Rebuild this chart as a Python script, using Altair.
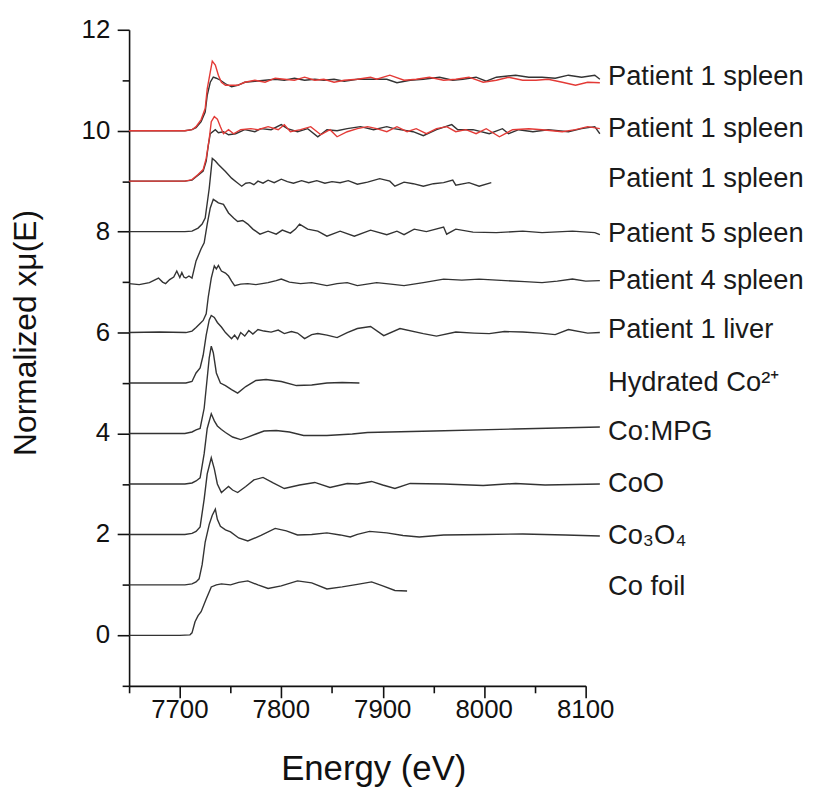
import altair as alt
import pandas as pd

# ---------------- data ----------------
foil_E = [7650, 7700, 7710, 7712, 7715, 7718, 7721, 7726, 7731, 7736, 7741, 7750, 7758, 7767, 7777, 7787, 7800, 7816, 7830, 7845, 7860, 7875, 7889, 7900, 7912, 7924]
foil_mu = [0.0, 0.0, 0.01, 0.05, 0.27, 0.39, 0.47, 0.72, 0.96, 1.0, 1.02, 1.0, 1.05, 1.08, 1.0, 0.93, 0.98, 1.08, 1.04, 0.92, 0.96, 1.01, 1.06, 0.98, 0.89, 0.88]

co3o4_E = [7650, 7705, 7712, 7716, 7719, 7722, 7725, 7729, 7732, 7735, 7737, 7740, 7745, 7750, 7758, 7767, 7780, 7794, 7805, 7816, 7830, 7845, 7858, 7868, 7875, 7887, 7904, 7920, 7936, 7960, 8000, 8038, 8080, 8114]
co3o4_mu = [1.0, 1.0, 1.02, 1.06, 1.12, 1.4, 1.85, 2.2, 2.38, 2.5, 2.3, 2.16, 2.09, 2.05, 1.93, 1.87, 1.98, 2.12, 2.07, 1.99, 2.0, 2.03, 1.99, 1.95, 2.0, 2.06, 2.03, 1.98, 1.95, 1.99, 2.0, 2.01, 1.99, 1.97]

coo_E = [7650, 7705, 7712, 7716, 7720, 7724, 7727, 7731, 7734, 7737, 7741, 7745, 7748, 7752, 7757, 7765, 7773, 7782, 7792, 7803, 7818, 7833, 7848, 7865, 7875, 7889, 7900, 7912, 7927, 7960, 7999, 8031, 8060, 8114]
coo_mu = [2.0, 2.0, 2.02, 2.06, 2.15, 2.7, 3.2, 3.52, 3.3, 3.0, 2.83, 2.9, 2.95, 2.88, 2.83, 2.95, 3.08, 3.13, 3.02, 2.91, 2.98, 3.03, 2.93, 3.01, 3.0, 3.05, 2.98, 2.91, 3.01, 3.0, 2.97, 3.01, 2.98, 3.0]

mpg_E = [7650, 7705, 7712, 7716, 7720, 7724, 7727, 7731, 7734, 7737, 7741, 7745, 7752, 7760, 7767, 7775, 7783, 7795, 7808, 7822, 7845, 7870, 7885, 7950, 8030, 8114]
mpg_mu = [3.0, 3.0, 3.02, 3.06, 3.12, 3.6, 4.1, 4.39, 4.25, 4.15, 4.08, 4.02, 3.93, 3.88, 3.93, 3.99, 4.05, 4.06, 4.03, 3.96, 3.96, 3.99, 4.02, 4.05, 4.09, 4.13]

hyd_E = [7650, 7705, 7712, 7716, 7720, 7724, 7727, 7729, 7731, 7733, 7736, 7740, 7745, 7751, 7757, 7765, 7775, 7785, 7800, 7815, 7830, 7845, 7860, 7877]
hyd_mu = [4.0, 4.0, 4.03, 4.07, 4.1, 4.5, 5.1, 5.5, 5.73, 5.6, 5.2, 5.0, 4.95, 4.87, 4.8, 4.93, 5.05, 5.07, 5.03, 4.95, 4.96, 5.0, 5.01, 5.0]

liver_E = [7650, 7706, 7712, 7716, 7720, 7723, 7726, 7729, 7731, 7734, 7737, 7741, 7745, 7751, 7754, 7757, 7760, 7764, 7768, 7772, 7777, 7783, 7790, 7797, 7803, 7810, 7816, 7823, 7830, 7836, 7845, 7855, 7865, 7875, 7888, 7901, 7917, 7940, 7953, 7972, 7990, 8005, 8020, 8038, 8055, 8070, 8083, 8102, 8114]
liver_mu = [5.0, 5.0, 5.03, 5.2, 5.3, 5.55, 5.95, 6.25, 6.34, 6.3, 6.2, 6.11, 6.0, 5.88, 5.95, 5.87, 6.0, 5.93, 6.04, 5.97, 6.06, 6.03, 6.01, 6.05, 5.98, 6.02, 5.99, 5.88, 5.96, 5.98, 5.95, 5.9, 6.0, 6.08, 6.12, 5.94, 6.08, 5.98, 5.93, 6.01, 5.99, 5.98, 6.02, 6.01, 5.99, 5.96, 6.06, 5.99, 6.0]

p4_E = [7650, 7680, 7706, 7712, 7716, 7720, 7723, 7726, 7728, 7731, 7734, 7736, 7738, 7741, 7745, 7748, 7751, 7754, 7760, 7767, 7775, 7787, 7795, 7800, 7808, 7819, 7830, 7845, 7855, 7865, 7875, 7894, 7908, 7921, 7940, 7960, 7978, 7995, 8021, 8040, 8057, 8072, 8087, 8100, 8114]
p4_mu = [6.0, 6.01, 6.0, 6.03, 6.1, 6.18, 6.24, 6.37, 6.7, 7.08, 7.32, 7.26, 7.33, 7.22, 7.18, 7.12, 7.02, 6.93, 6.96, 6.97, 6.95, 6.99, 7.03, 7.06, 7.0, 6.97, 6.99, 6.93, 6.97, 6.99, 6.93, 6.99, 6.96, 6.93, 6.99, 7.06, 7.04, 7.06, 7.03, 7.01, 6.99, 7.02, 7.06, 7.02, 7.03]

p5_E = [7650, 7660, 7670, 7679, 7683, 7686, 7690, 7694, 7697, 7700, 7702, 7704, 7706, 7709, 7712, 7716, 7721, 7724, 7727, 7730, 7733, 7736, 7738, 7743, 7748, 7753, 7757, 7762, 7767, 7772, 7779, 7787, 7795, 7801, 7809, 7814, 7818, 7826, 7836, 7845, 7858, 7872, 7888, 7904, 7914, 7921, 7931, 7943, 7960, 7963, 7972, 7989, 8012, 8038, 8057, 8087, 8109, 8114]
p5_mu = [6.97, 6.95, 6.99, 7.08, 7.0, 6.97, 7.05, 7.1, 7.22, 7.09, 7.19, 7.1, 7.08, 7.12, 7.08, 7.42, 7.66, 7.78, 8.15, 8.47, 8.64, 8.6, 8.57, 8.54, 8.37, 8.27, 8.2, 8.22, 8.15, 8.05, 7.95, 8.01, 7.95, 8.03, 7.97, 8.05, 8.15, 8.05, 8.01, 7.91, 8.01, 7.91, 8.03, 7.94, 8.01, 7.94, 8.05, 8.0, 8.09, 7.95, 8.05, 7.99, 7.98, 8.01, 7.98, 8.01, 7.98, 7.94]

s3_E = [7650, 7705, 7712, 7718, 7722, 7725, 7729, 7732, 7735, 7738, 7745, 7751, 7756, 7761, 7765, 7769, 7773, 7777, 7782, 7787, 7793, 7800, 7806, 7812, 7820, 7827, 7835, 7843, 7850, 7858, 7866, 7875, 7885, 7897, 7907, 7912, 7921, 7930, 7940, 7950, 7960, 7969, 7972, 7985, 7995, 8007]
s3_mu = [8.0, 8.0, 8.01, 8.07, 8.15, 8.27, 8.86, 9.45, 9.4, 9.33, 9.19, 9.06, 8.98, 8.9, 8.96, 8.97, 8.93, 9.0, 8.96, 9.02, 8.97, 9.04, 8.99, 8.96, 9.01, 8.97, 9.01, 8.96, 8.99, 8.97, 9.01, 8.94, 8.98, 9.05, 9.0, 8.9, 8.98, 8.95, 8.9, 8.95, 8.97, 9.02, 8.92, 8.97, 8.9, 8.97]

s2_black_E = [7650, 7705, 7712, 7718, 7723, 7726, 7728, 7730, 7735, 7738, 7743, 7748, 7755, 7764, 7774, 7780, 7790, 7800, 7806, 7816, 7826, 7836, 7845, 7855, 7865, 7878, 7891, 7904, 7911, 7930, 7940, 7953, 7968, 7974, 7989, 8005, 8018, 8024, 8034, 8048, 8063, 8083, 8096, 8109, 8114]
s2_black_mu = [9.0, 9.0, 9.02, 9.12, 9.2, 9.4, 9.7, 9.94, 10.02, 9.96, 9.98, 9.92, 9.94, 10.02, 9.98, 10.04, 10.02, 10.12, 10.04, 9.98, 10.04, 9.88, 10.02, 10.0, 10.04, 10.08, 10.02, 10.08, 10.04, 9.98, 9.9, 10.02, 10.12, 10.02, 10.02, 9.94, 10.04, 9.94, 10.02, 9.98, 10.02, 9.98, 10.04, 10.08, 9.94]

s2_red_E = [7650, 7705, 7712, 7718, 7723, 7726, 7729, 7731, 7734, 7737, 7740, 7743, 7748, 7753, 7760, 7770, 7777, 7787, 7797, 7803, 7809, 7819, 7829, 7839, 7848, 7855, 7865, 7875, 7885, 7894, 7904, 7914, 7924, 7933, 7943, 7953, 7963, 7972, 7982, 7992, 8002, 8015, 8028, 8044, 8057, 8077, 8090, 8102, 8114]
s2_red_mu = [9.0, 9.0, 9.03, 9.13, 9.23, 9.45, 9.84, 10.18, 10.28, 10.23, 10.08, 9.94, 10.02, 9.94, 10.02, 10.04, 10.02, 10.08, 10.02, 10.12, 9.98, 10.02, 10.08, 9.92, 10.02, 9.88, 9.98, 10.04, 10.08, 10.04, 9.98, 10.08, 9.98, 10.04, 9.94, 10.04, 10.08, 9.98, 10.02, 9.94, 10.04, 9.88, 10.02, 10.04, 10.02, 9.98, 10.02, 10.08, 10.04]

s1_black_E = [7650, 7705, 7712, 7716, 7721, 7725, 7727, 7730, 7733, 7736, 7740, 7745, 7751, 7757, 7764, 7774, 7784, 7794, 7803, 7813, 7823, 7833, 7842, 7852, 7862, 7875, 7888, 7904, 7914, 7927, 7940, 7956, 7969, 7979, 7992, 8002, 8012, 8031, 8044, 8057, 8070, 8083, 8096, 8109, 8114]
s1_black_mu = [10.0, 10.0, 10.02, 10.06, 10.18, 10.37, 10.7, 10.96, 11.06, 11.04, 11.0, 10.93, 10.87, 10.9, 10.96, 10.98, 11.0, 11.02, 11.0, 11.04, 11.0, 11.02, 11.0, 11.02, 10.98, 11.02, 11.02, 11.02, 10.95, 11.0, 11.02, 11.06, 11.0, 11.02, 11.06, 10.98, 11.06, 11.1, 11.06, 11.06, 11.04, 11.1, 11.06, 11.1, 11.02]

s1_red_E = [7650, 7705, 7712, 7716, 7721, 7725, 7727, 7730, 7732, 7735, 7738, 7741, 7745, 7750, 7757, 7764, 7774, 7784, 7794, 7803, 7813, 7823, 7833, 7842, 7852, 7862, 7875, 7888, 7894, 7907, 7921, 7933, 7946, 7960, 7972, 7985, 7999, 8012, 8024, 8038, 8051, 8063, 8077, 8090, 8102, 8114]
s1_red_mu = [10.0, 10.0, 10.02, 10.08, 10.22, 10.44, 10.83, 11.16, 11.38, 11.3, 11.1, 10.96, 10.9, 10.9, 10.9, 10.96, 11.0, 10.96, 11.04, 11.02, 11.0, 11.06, 11.0, 11.02, 10.96, 11.0, 11.02, 11.06, 11.02, 11.1, 11.0, 11.02, 11.06, 11.0, 11.02, 11.06, 10.96, 11.0, 11.06, 11.0, 11.0, 11.02, 10.96, 10.9, 10.96, 10.95]

label_texts = ["Patient 1 spleen", "Patient 1 spleen", "Patient 1 spleen", "Patient 5 spleen",
               "Patient 4 spleen", "Patient 1 liver", "Hydrated Co²⁺", "Co:MPG", "CoO", "Co₃O₄", "Co foil"]
label_mu = [11.06, 10.04, 9.05, 7.95, 7.03, 6.04, 5.0, 4.02, 2.99, 1.97, 0.96]
label_E = 8122

x_ticks = [7650, 7700, 7750, 7800, 7850, 7900, 7950, 8000, 8050, 8100]
x_tick_labels = [7700, 7800, 7900, 8000, 8100]
y_ticks = list(range(-1, 13))
y_tick_labels = [0, 2, 4, 6, 8, 10, 12]

# ---------------- build tables ----------------
black_series = [
    ("foil", foil_E, foil_mu), ("co3o4", co3o4_E, co3o4_mu), ("coo", coo_E, coo_mu),
    ("mpg", mpg_E, mpg_mu), ("hyd", hyd_E, hyd_mu), ("liver", liver_E, liver_mu),
    ("p4", p4_E, p4_mu), ("p5", p5_E, p5_mu), ("s3", s3_E, s3_mu),
    ("s2b", s2_black_E, s2_black_mu), ("s1b", s1_black_E, s1_black_mu),
]
red_series = [("s2r", s2_red_E, s2_red_mu), ("s1r", s1_red_E, s1_red_mu)]


def to_df(series):
    rows = []
    for name, es, vs in series:
        for e, v in zip(es, vs):
            rows.append({"E": e, "mu": v, "series": name})
    return pd.DataFrame(rows)


black_df = to_df(black_series)
red_df = to_df(red_series)
label_df = pd.DataFrame({"E": [label_E] * len(label_texts), "mu": label_mu, "label": label_texts})
xlab_df = pd.DataFrame({"E": x_tick_labels, "mu": [-1] * len(x_tick_labels),
                        "label": [str(v) for v in x_tick_labels]})
ylab_df = pd.DataFrame({"E": [7650] * len(y_tick_labels), "mu": y_tick_labels,
                        "label": [str(v) for v in y_tick_labels]})

FONT = "Liberation Sans"
TICK_FS = 26

xscale = alt.Scale(domain=[7650, 8100], nice=False, zero=False)
yscale = alt.Scale(domain=[-1, 12], nice=False, zero=False)

x_axis = alt.Axis(
    values=x_ticks, labels=False,
    tickSize={"condition": {"test": "datum.value % 100 != 0", "value": 7}, "value": 12},
    title="Energy (eV)", titleFontSize=35, titleFont=FONT, titleFontWeight="normal",
    titleColor="#111111", titleBaseline="alphabetic", titleY=94, titleX=246,
    domainColor="#111111", domainWidth=1.6, tickColor="#111111", tickWidth=1.6,
    grid=False,
)
y_axis = alt.Axis(
    values=y_ticks, labels=False,
    tickSize={"condition": {"test": "datum.value % 2 != 0", "value": 7}, "value": 12},
    title="Normalized xμ(E)", titleFontSize=32, titleFont=FONT, titleFontWeight="normal",
    titleColor="#111111", titleBaseline="alphabetic", titleX=-94, titleY=305, titleAngle=-90,
    domainColor="#111111", domainWidth=1.6, tickColor="#111111", tickWidth=1.6,
    grid=False,
)

X = alt.X("E:Q", scale=xscale, axis=x_axis)
Y = alt.Y("mu:Q", scale=yscale, axis=y_axis)

black = alt.Chart(black_df).mark_line(color="#333333", strokeWidth=1.4, clip=False).encode(
    x=X, y=Y, detail="series:N", order="E:Q")
red = alt.Chart(red_df).mark_line(color="#e33a36", strokeWidth=1.4, clip=False).encode(
    x=X, y=Y, detail="series:N", order="E:Q")
text = alt.Chart(label_df).mark_text(align="left", baseline="middle", font=FONT, fontSize=27.5,
                                     color="#1a1a1a", clip=False).encode(x=X, y=Y, text="label:N")
xlabels = alt.Chart(xlab_df).mark_text(align="center", baseline="middle", font=FONT, fontSize=TICK_FS,
                                       color="#111111", dy=24, clip=False).encode(x=X, y=Y, text="label:N")
ylabels = alt.Chart(ylab_df).mark_text(align="right", baseline="middle", font=FONT, fontSize=TICK_FS,
                                       color="#111111", dx=-19, clip=False).encode(x=X, y=Y, text="label:N")

chart = alt.layer(black, red, text, xlabels, ylabels).properties(
    width=460, height=661,
    padding={"left": 122, "top": 19, "right": 222, "bottom": 100},
    autosize=alt.AutoSizeParams(type="none"),
).configure_view(stroke=None)

chart.save("out.html", embed_options={"renderer": "svg", "actions": False})
